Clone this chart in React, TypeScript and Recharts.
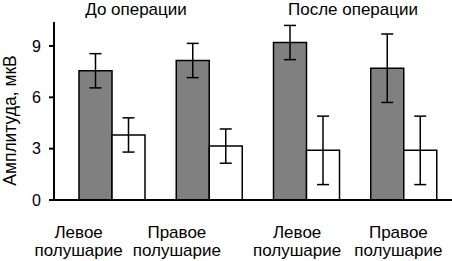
import { BarChart, Bar, XAxis, YAxis, ErrorBar } from 'recharts';

const HEMISPHERES = ['Левое полушарие', 'Правое полушарие', 'Левое полушарие', 'Правое полушарие'];
const GRAY_VALUES = [7.55, 8.15, 9.2, 7.7];
const GRAY_ERRORS = [1.0, 1.0, 1.0, 2.0];
const WHITE_VALUES = [3.8, 3.15, 2.9, 2.9];
const WHITE_ERRORS = [1.0, 1.0, 2.0, 2.0];
const PERIODS = ['До операции', 'После операции'];
const Y_TICKS = [0, 3, 6, 9];

// labels in the original sit left of the group centres
const LABEL_SHIFT = [-33, -32, -9, -5];
const FONT = '"Liberation Sans", Arial, sans-serif';

const data = HEMISPHERES.map((name, i) => ({
  name,
  gray: GRAY_VALUES[i],
  grayErr: GRAY_ERRORS[i],
  white: WHITE_VALUES[i],
  whiteErr: WHITE_ERRORS[i],
}));

const HemisphereTick = ({ x, y, payload, index }: any) => {
  const [first, second] = String(payload.value).split(' ');
  const cx = x + (LABEL_SHIFT[index] || 0);
  return (
    <text x={cx} y={y} textAnchor="middle" fontSize={17} fill="#000" fontFamily={FONT}>
      <tspan x={cx} dy={30}>{first}</tspan>
      <tspan x={cx} dy={17.5}>{second}</tspan>
    </text>
  );
};

const titleStyle = {
  position: 'absolute' as const,
  top: 0,
  width: 200,
  textAlign: 'center' as const,
  fontSize: 17,
  lineHeight: '19px',
};

export default function App() {
  return (
    <div style={{ position: 'absolute', left: 0, top: 0, width: 452, height: 261, background: '#fff', fontFamily: FONT }}>
      <BarChart
        width={452}
        height={261}
        data={data}
        margin={{ top: 22, right: 0, bottom: 1, left: 0 }}
        barGap={0}
        barCategoryGap={16}
      >
        <XAxis
          dataKey="name"
          height={60}
          padding={{ left: 9, right: 0 }}
          stroke="#000"
          strokeWidth={2}
          tickLine={false}
          tick={<HemisphereTick />}
          interval={0}
        />
        <YAxis
          width={54}
          domain={[0, 10.4]}
          ticks={Y_TICKS}
          stroke="#000"
          strokeWidth={2}
          tickSize={5}
          tickMargin={8}
          tick={{ fill: '#000', fontSize: 16, fontFamily: FONT }}
        />
        <Bar dataKey="gray" fill="#808080" stroke="#000" strokeWidth={1.5} isAnimationActive={false}>
          <ErrorBar dataKey="grayErr" width={6} stroke="#000" strokeWidth={1.5} direction="y" />
        </Bar>
        <Bar dataKey="white" fill="#fff" stroke="#000" strokeWidth={1.5} isAnimationActive={false}>
          <ErrorBar dataKey="whiteErr" width={6} stroke="#000" strokeWidth={1.5} direction="y" />
        </Bar>
      </BarChart>
      <div style={{ ...titleStyle, left: 136 - 100 }}>{PERIODS[0]}</div>
      <div style={{ ...titleStyle, left: 353 - 100 }}>{PERIODS[1]}</div>
      <div
        style={{
          position: 'absolute',
          left: 9.5 - 100,
          top: 120 - 8.5,
          width: 200,
          height: 17,
          textAlign: 'center',
          fontSize: 17.5,
          lineHeight: '17px',
          transform: 'rotate(-90deg)',
        }}
      >
        Амплитуда, мкВ
      </div>
    </div>
  );
}
